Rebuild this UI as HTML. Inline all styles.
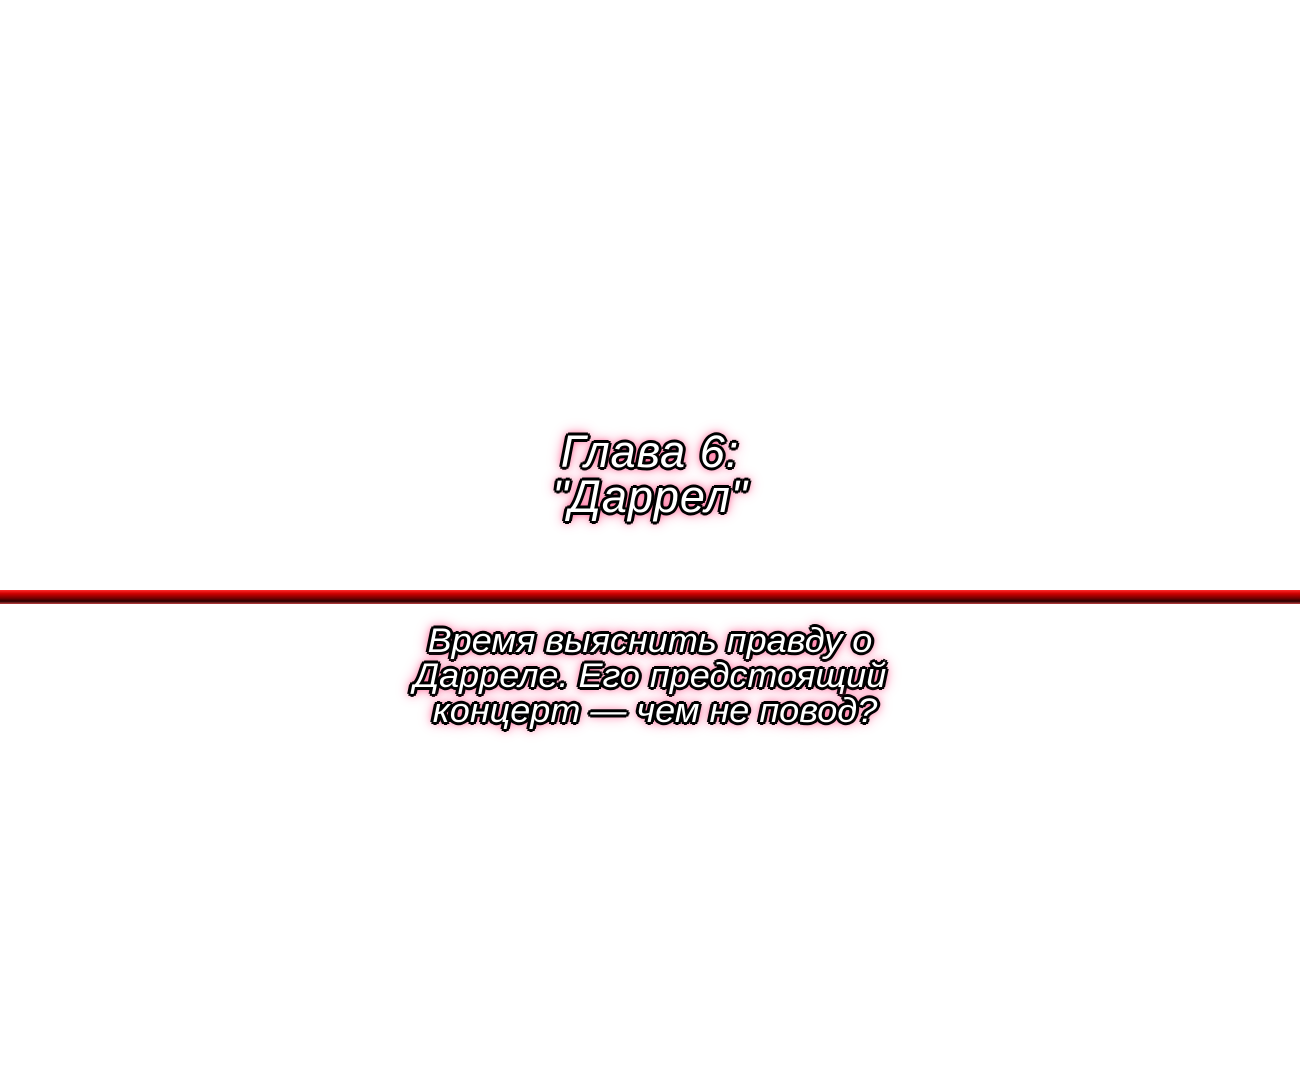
<!DOCTYPE html>
<html><head><meta charset="utf-8"><style>
html,body{margin:0;padding:0;width:1300px;height:1080px;background:#fff;overflow:hidden;position:relative}
.t{position:absolute;left:0;width:1300px;text-align:center;color:#fff;font-family:"Liberation Sans",sans-serif;font-style:italic;white-space:nowrap;
text-shadow:-2px -2px 0 #000,2px -2px 0 #000,-2px 2px 0 #000,2px 2px 0 #000,0 -3px 0 #000,0 3px 0 #000,-3px 0 0 #000,3px 0 0 #000,0 0 7px #ff2a6a,0 0 11px #ff4a85,0 0 16px #ff80aa;}
.h{font-size:45px;line-height:45px;top:429px;letter-spacing:1px}
.s{font-size:34px;line-height:35px;top:624px;letter-spacing:0px;transform:scaleX(1.06);transform-origin:650px 0}
.line{position:absolute;left:0;top:590px;width:1300px;height:14px;background:linear-gradient(#ff2a2a 0,#d00000 25%,#700000 60%,#2a0000 80%,#c04040 100%)}
</style></head><body>
<div class="t h">Глава 6:<br>"Даррел"</div>
<div class="line"></div>
<div class="t s">Время выяснить правду о<br>Дарреле. Его предстоящий<br>&nbsp;концерт — чем не повод?</div>
</body></html>
